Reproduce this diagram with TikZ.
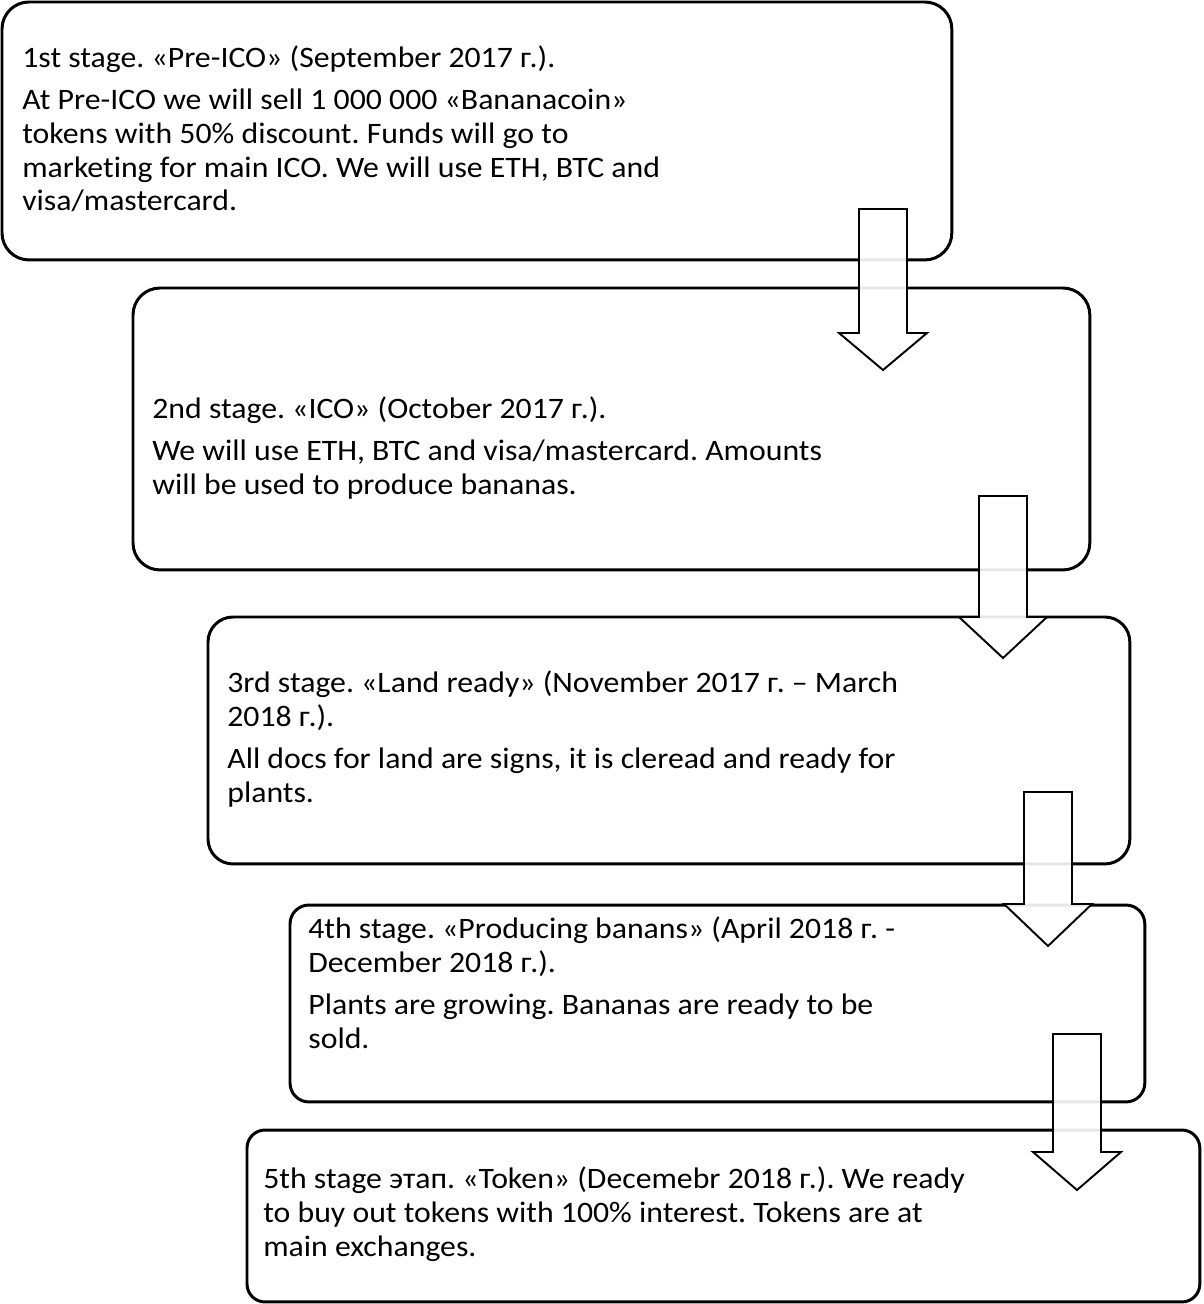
\documentclass[tikz,border=0pt]{standalone}
\usepackage{fontspec}
\setmainfont{Carlito}[FakeStretch=1.07,Ligatures=NoCommon]
\frenchspacing
\newcommand\stagearrow[4]{%
  \draw[blockarrow] (#1-24,#2) -- (#1+24,#2) -- (#1+24,#3) -- (#1+44,#3)
    -- (#1,#4) -- (#1-44,#3) -- (#1-24,#3) -- cycle;}
\begin{document}
\begin{tikzpicture}[x=0.02cm,y=-0.02cm]
		\tikzset{stagebox/.style = {draw, line width=1.7pt, anchor=north west, outer sep=0pt, inner sep=0pt}}
		\tikzset{stagetext/.style = {anchor=base west, inner sep=0pt, align=left,
				font=\fontsize{16.9pt}{19.35pt}\selectfont}}
		\tikzset{blockarrow/.style = {draw, line width=1.1pt, fill=white, fill opacity=0.9, line join=miter}}
		\useasboundingbox (0,0) rectangle (1203,1304);
		% boxes
		\node[stagebox, rounded corners=0.54cm, minimum width=19cm, minimum height=5.16cm] (s1) at (2,2) {};
		\node[stagebox, rounded corners=0.54cm, minimum width=19.14cm, minimum height=5.64cm] (s2) at (133,288) {};
		\node[stagebox, rounded corners=0.5cm, minimum width=18.44cm, minimum height=4.94cm] (s3) at (208,617) {};
		\node[stagebox, rounded corners=0.38cm, minimum width=17.1cm, minimum height=3.94cm] (s4) at (290,905) {};
		\node[stagebox, rounded corners=0.36cm, minimum width=19.06cm, minimum height=3.44cm] (s5) at (247,1130) {};
		% texts (anchored at the last line)
		\node[stagetext] (t1) at (22,211) {1st stage. «Pre-ICO» (September 2017 г.).\\[4.5pt]
			At Pre-ICO we will sell 1 000 000 «Bananacoin»\\ tokens with 50\% discount. Funds will go to\\
			marketing for main ICO. We will use ETH, BTC and\\ visa/mastercard.};
		\node[stagetext] (t2) at (152,494) {2nd stage. «ICO» (October 2017 г.).\\[4.5pt]
			We will use ETH, BTC and visa/mastercard. Amounts\\ will be used to produce bananas.};
		\node[stagetext] (t3) at (227,802) {3rd stage. «Land ready» (November 2017 г. – March\\ 2018 г.).\\[4.5pt]
			All docs for land are signs, it is cleread and ready for\\ plants.};
		\node[stagetext] (t4) at (308,1048) {4th stage. «Producing banans» (April 2018 г. -\\ December 2018 г.).\\[4.5pt]
			Plants are growing. Bananas are ready to be\\ sold.};
		\node[stagetext] (t5) at (263,1256) {5th stage этап. «Token» (Decemebr 2018 г.). We ready\\
			to buy out tokens with 100\% interest. Tokens are at\\ main exchanges.};
		% arrows
		\stagearrow{883}{209}{333}{370}
		\stagearrow{1003}{496}{617}{658}
		\stagearrow{1048}{792}{904}{946}
		\stagearrow{1077}{1034}{1152}{1190}
	\end{tikzpicture}
\end{document}
